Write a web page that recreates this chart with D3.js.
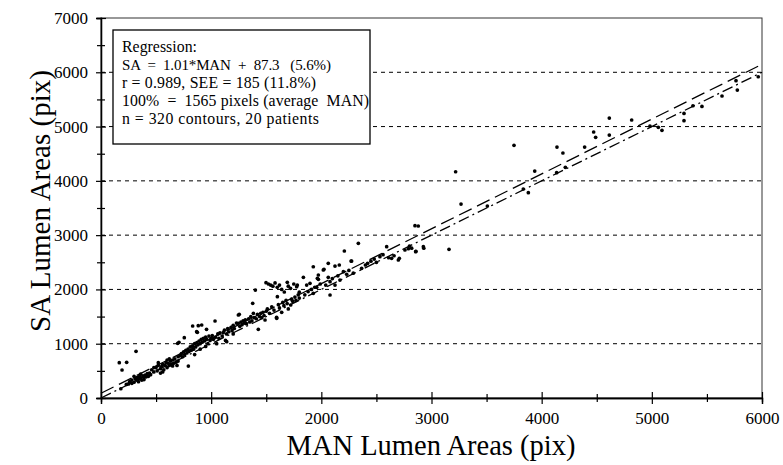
<!DOCTYPE html>
<html><head><meta charset="utf-8">
<script src="https://cdn.jsdelivr.net/npm/d3@7"></script>
<style>body{margin:0;background:#fff}svg{display:block}text{font-family:"Liberation Serif","Times New Roman",serif}</style>
</head><body>
<svg id="c" width="783" height="465"></svg>
<script>
// ---- data ----
const xTicks = [0,1000,2000,3000,4000,5000,6000];
const yTicks = [0,1000,2000,3000,4000,5000,6000,7000];
const gridValues = [1000,2000,3000,4000,5000,6000];
const minorX = [500,1500,2500,3500,4500,5500];
const minorY = [500,1500,2500,3500,4500,5500,6500];
const regression = {slope:1.01, intercept:87.3};
const identity = {slope:1, intercept:0};
const lineRange = [0,6000];
const legendLines = [
  "Regression:",
  "SA  =  1.01*MAN  +  87.3   (5.6%)",
  "r = 0.989, SEE = 185 (11.8%)",
  "100%  =  1565 pixels (average  MAN)",
  "n = 320 contours, 20 patients"
];
const xTitle = "MAN Lumen Areas (pix)";
const yTitle = "SA Lumen Areas (pix)";
// MAN (x), SA (y) pairs
const groupA = [[166,651],[233,657],[191,516],[318,860],[180,170],[230,250],[260,300],[280,330],[300,290],[310,360],[320,330],[330,380],[340,350],[350,400],[360,370],[370,330],[380,410],[390,380],[400,420],[410,390],[420,450],[430,400],[440,460],[450,430],[300,400],[340,300],[280,270],[360,440],[390,340],[250,260]];
const groupB = [[460,520],[480,480],[500,560],[510,500],[520,600],[540,540],[550,580],[560,620],[570,520],[580,600],[590,650],[600,560],[610,640],[620,600],[630,680],[640,620],[650,700],[660,640],[670,720],[680,660],[690,600],[700,760],[520,650],[560,480],[600,700],[650,590],[480,560],[540,460],[620,720],[700,680]];
const groupC = [[720,780],[730,820],[740,760],[750,850],[760,800],[770,880],[780,830],[790,900],[800,860],[810,940],[820,880],[830,960],[840,900],[850,1000],[860,940],[870,1020],[880,980],[890,1050],[900,1000],[910,1080],[920,1030],[930,1100],[940,1050],[950,1120],[960,1080],[970,1000],[980,1140],[990,1060],[1000,1100],[875,1210],[914,1345],[958,1265],[832,1326],[883,1332],[696,1007],[756,1111],[793,589],[850,800],[900,900],[950,950],[708,1026],[868,1222]];
const groupD = [[1010,1150],[1020,1080],[1035,1418],[1040,1120],[1060,1180],[1070,1100],[1080,1200],[1100,1140],[1110,1203],[1120,1250],[1140,1180],[1141,1037],[1150,1280],[1160,1220],[1180,1300],[1190,1240],[1200,1340],[1210,1280],[1230,1380],[1247,1376],[1247,1529],[1255,1541],[1260,1320],[1270,1400],[1280,1350],[1290,1420],[1300,1380],[1050,1000],[1130,1060],[1200,1180]];
const groupE = [[1310,1440],[1320,1370],[1340,1460],[1350,1400],[1360,1500],[1370,1420],[1377,1744],[1383,1560],[1390,1480],[1401,1989],[1410,1460],[1420,1540],[1428,1265],[1440,1500],[1450,1560],[1460,1480],[1470,1580],[1480,1520],[1489,1437],[1498,2124],[1500,1600]];
const groupF = [[1520,2100],[1540,2080],[1560,2060],[1580,2120],[1600,2040],[1620,2080],[1640,2000],[1664,1953],[1691,2131],[1700,2060],[1720,2020],[1750,2100],[1782,2081],[1510,1640],[1530,1560],[1550,1680],[1570,1620],[1594,1486],[1595,1468],[1601,1866],[1610,1720],[1620,1660],[1640,1578],[1650,1760],[1660,1700],[1680,1800],[1690,1740],[1700,1640],[1722,1713],[1730,1820],[1740,1780],[1760,1860],[1770,1800],[1790,1900],[1800,1840]];
const groupG = [[1776,2050],[1800,1950],[1837,2223],[1850,1900],[1867,2081],[1880,1960],[1897,2112],[1910,2000],[1927,1928],[1927,2418],[1940,2040],[1958,2039],[1964,2204],[1973,2266],[1973,2186],[1990,2100],[2018,2358],[2024,2370],[2040,2080],[2063,2481],[2063,2223],[2079,2143],[2079,1897],[2100,2200],[2124,2431],[2124,2081],[2150,2250],[2163,2450],[2169,2173],[2200,2327],[2209,2708],[2230,2280],[2250,2350],[2270,2523],[2275,2523],[2290,2300]];
const groupH = [[2336,2849],[2366,2389],[2400,2450],[2420,2480],[2450,2520],[2480,2560],[2500,2500],[2532,2603],[2560,2640],[2593,2787],[2611,2584],[2638,2573],[2660,2620],[2699,2542],[2708,2573],[2759,2726],[2790,2750],[2800,2800],[2820,2760],[2856,2695],[2859,2702],[2850,3174],[2880,3168],[2926,2787],[2930,2760],[3159,2739]];
const groupI = [[3219,4168],[3268,3573],[3507,3537],[3749,4655],[3833,3850],[3879,3782],[3937,4181],[4136,4150],[4139,4623],[4193,4513],[4215,4249],[4390,4623],[4472,4900],[4490,4802],[4614,5157],[4614,4844],[4817,5121],[4983,5010],[5059,4986],[5092,4931],[5292,5243],[5292,5108],[5373,5384],[5455,5372],[5637,5563],[5764,5845],[5776,5673],[5966,5918]];
const points = [].concat(groupA,groupB,groupC,groupD,groupE,groupF,groupG,groupH,groupI);

// ---- drawing ----
const svg = d3.select("#c");
const x = d3.scaleLinear().domain([0,6000]).range([101,762]);
const y = d3.scaleLinear().domain([0,7000]).range([398,18]);

// gridlines
svg.append("g").selectAll("line").data(gridValues).join("line")
  .attr("x1",x(0)).attr("x2",x(6000)).attr("y1",d=>y(d)).attr("y2",d=>y(d))
  .attr("stroke","#000").attr("stroke-width",1).attr("stroke-dasharray","4,4");

// frame
svg.append("rect").attr("x",x(0)).attr("y",y(7000)).attr("width",x(6000)-x(0)).attr("height",y(0)-y(7000))
  .attr("fill","none").attr("stroke","#333").attr("stroke-width",1);

// points
svg.append("g").selectAll("circle").data(points).join("circle")
  .attr("cx",d=>x(d[0])).attr("cy",d=>y(d[1])).attr("r",1.85).attr("fill","#000");

// lines
const mk = p => d3.line().x(d=>x(d)).y(d=>y(p.slope*d+p.intercept));
svg.append("path").datum(lineRange).attr("d",mk(regression)).attr("fill","none")
  .attr("stroke","#000").attr("stroke-width",1.3).attr("stroke-dasharray","14,6");
svg.append("path").datum(lineRange).attr("d",mk(identity)).attr("fill","none")
  .attr("stroke","#000").attr("stroke-width",1.3).attr("stroke-dasharray","11,4,2,4");

// axes
const xa = svg.append("g").attr("transform",`translate(0,${y(0)})`)
  .call(d3.axisBottom(x).tickValues(xTicks).tickFormat(d3.format("d")).tickSize(6).tickPadding(8));
xa.selectAll(".tick line").attr("y1",-6).attr("y2",6);
const xm = svg.append("g").attr("transform",`translate(0,${y(0)})`)
  .call(d3.axisBottom(x).tickValues(minorX).tickFormat("").tickSize(4));
xm.selectAll(".tick line").attr("y1",-4).attr("y2",4);
const ya = svg.append("g").attr("transform",`translate(${x(0)},0)`)
  .call(d3.axisLeft(y).tickValues(yTicks).tickFormat(d3.format("d")).tickSize(5).tickPadding(8));
ya.selectAll(".tick line").attr("x1",-5).attr("x2",5);
const ym = svg.append("g").attr("transform",`translate(${x(0)},0)`)
  .call(d3.axisLeft(y).tickValues(minorY).tickFormat("").tickSize(4));
ym.selectAll(".tick line").attr("x1",-4).attr("x2",4);
[xa,xm,ya,ym].forEach(g=>{g.select(".domain").attr("stroke","#000").attr("stroke-width",1.3);
  g.selectAll(".tick line").attr("stroke","#000").attr("stroke-width",1.2);
  g.selectAll("text").attr("font-family","Liberation Serif").attr("font-size",17).attr("fill","#000");});

// titles
svg.append("text").attr("x",431).attr("y",455).attr("text-anchor","middle")
  .attr("font-size",28.5).text(xTitle);
svg.append("text").attr("transform","translate(50,201) rotate(-90)").attr("text-anchor","middle")
  .attr("font-size",29).text(yTitle);

// legend
const legendWidths = [75,209,194,247,197];
const legendSizes = [15.8,15,15.8,15.8,15.8];
svg.append("rect").attr("x",113).attr("y",30).attr("width",257).attr("height",114)
  .attr("fill","#fff").attr("stroke","#000").attr("stroke-width",1.3);
svg.append("g").selectAll("text").data(legendLines).join("text")
  .attr("x",122).attr("y",(d,i)=>52+18*i).attr("font-size",(d,i)=>legendSizes[i])
  .attr("textLength",(d,i)=>legendWidths[i]).attr("lengthAdjust","spacing")
  .style("white-space","pre").attr("xml:space","preserve").text(d=>d);
</script>
</body></html>
